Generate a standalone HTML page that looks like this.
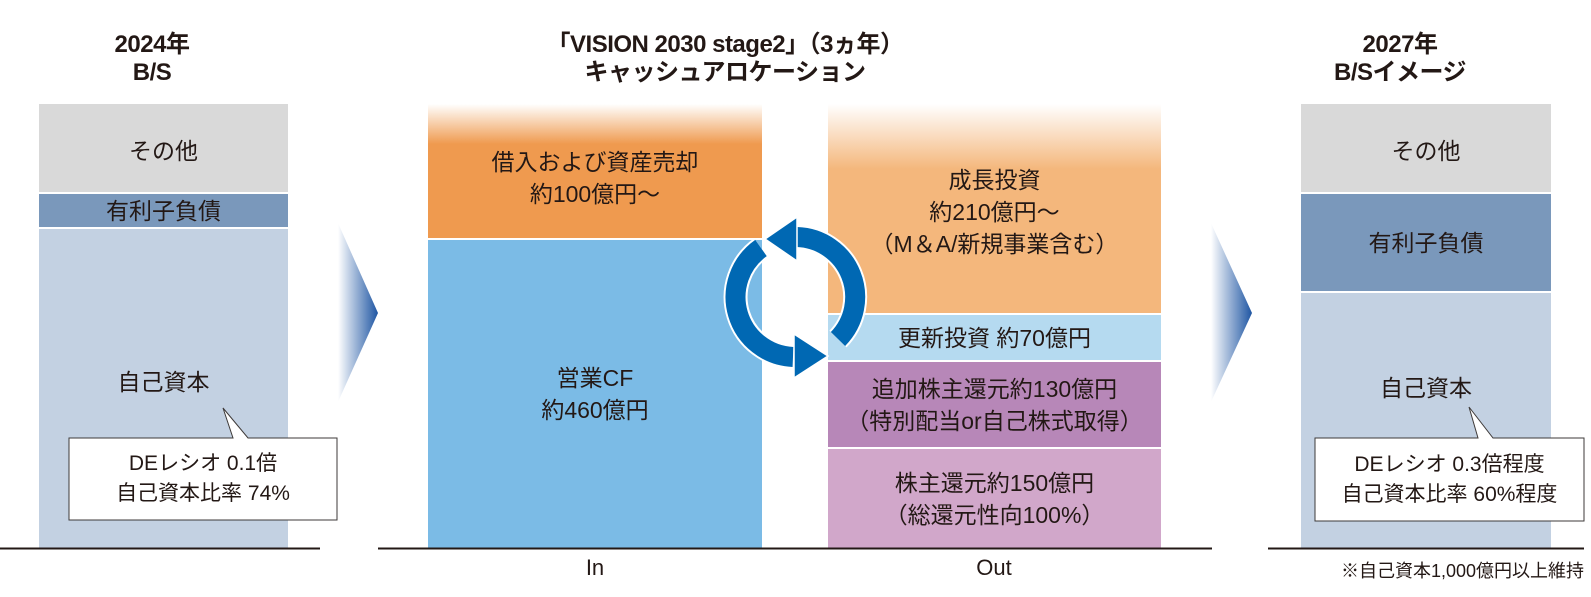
<!DOCTYPE html>
<html><head><meta charset="utf-8"><style>
body{margin:0;width:1591px;height:597px;background:#fff;position:relative;overflow:hidden;font-family:"Liberation Sans","Noto Sans CJK JP",sans-serif;color:#231815}
.a{position:absolute}
.c{display:flex;align-items:center;justify-content:center;text-align:center;flex-direction:column;line-height:32px;font-size:23px}
.h{font-weight:bold;font-size:24px;line-height:28px;text-align:center;letter-spacing:-0.5px}
</style></head><body>
<div class="a h" style="left:52px;top:31px;width:200px">2024年<br>B/S</div>
<div class="a h" style="left:475px;top:31px;width:500px">「VISION 2030 stage2」（3ヵ年）<br>キャッシュアロケーション</div>
<div class="a h" style="left:1300px;top:31px;width:200px">2027年<br>B/Sイメージ</div>

<div class="a c" style="left:39px;top:104px;width:249px;height:88px;background:#d9d9d9"><div style="margin-top:6px">その他</div></div>
<div class="a c" style="left:39px;top:194px;width:249px;height:33px;background:#7a98bb">有利子負債</div>
<div class="a" style="left:39px;top:229px;width:249px;height:319px;background:#c3d1e2"></div>
<div class="a c" style="left:39px;top:366px;width:249px;height:32px">自己資本</div>

<div class="a c" style="left:1301px;top:104px;width:250px;height:88px;background:#d9d9d9"><div style="margin-top:6px">その他</div></div>
<div class="a c" style="left:1301px;top:194px;width:250px;height:97px;background:#7a98bb">有利子負債</div>
<div class="a" style="left:1301px;top:293px;width:250px;height:255px;background:#c3d1e2"></div>
<div class="a c" style="left:1301px;top:372px;width:250px;height:32px">自己資本</div>

<div class="a c" style="left:428px;top:104px;width:334px;height:134px;background:linear-gradient(#fff 0px,#ef9a4f 40px,#ef9a4f)"><div style="margin-top:14px">借入および資産売却<br>約100億円～</div></div>
<div class="a c" style="left:428px;top:240px;width:334px;height:308px;background:#7bbbe6">営業CF<br>約460億円</div>

<div class="a c" style="left:828px;top:104px;width:333px;height:209px;background:linear-gradient(#fff 0px,#f4b77c 65px,#f4b77c)"><div style="margin-top:6px">成長投資<br>約210億円～<br>（M＆A/新規事業含む）</div></div>
<div class="a c" style="left:828px;top:315px;width:333px;height:45px;background:#b5daf0">更新投資 約70億円</div>
<div class="a c" style="left:828px;top:362px;width:333px;height:85px;background:#b787b8">追加株主還元約130億円<br>（特別配当or自己株式取得）</div>
<div class="a c" style="left:828px;top:449px;width:333px;height:99px;background:#d1a7ca">株主還元約150億円<br>（総還元性向100%）</div>

<svg class="a" style="left:0;top:0" width="1591" height="597">
<defs>
<linearGradient id="g" x1="0" x2="1" y1="0" y2="0"><stop offset="0" stop-color="#fff"/><stop offset="1" stop-color="#1f56a3"/></linearGradient>
</defs>
<polygon points="338,223 378,313 338,402" fill="url(#g)"/>
<polygon points="1211,223 1252,313 1211,402" fill="url(#g)"/>
<line x1="0" y1="548.5" x2="320" y2="548.5" stroke="#231815" stroke-width="2"/>
<line x1="378" y1="548.5" x2="1212" y2="548.5" stroke="#231815" stroke-width="2"/>
<line x1="1268" y1="548.5" x2="1584" y2="548.5" stroke="#231815" stroke-width="2"/>
<path d="M795 237 A60 60 0 0 1 838 339" fill="none" stroke="#fff" stroke-width="24"/>
<path d="M761 248 A60 60 0 0 0 795 357" fill="none" stroke="#fff" stroke-width="24"/>
<path d="M797 237 A60 60 0 0 1 838 339" fill="none" stroke="#0068b3" stroke-width="20"/>
<path d="M761 248 A60 60 0 0 0 793 357" fill="none" stroke="#0068b3" stroke-width="20"/>
<polygon points="797,217 797,261 765,239" fill="#0068b3" stroke="#fff" stroke-width="1.5"/>
<polygon points="794,334 794,378 828,356" fill="#0068b3" stroke="#fff" stroke-width="1.5"/>
<path d="M69 438 H233 L223 408 L248 438 H337 V520 H69 Z" fill="#fff" stroke="#3e3a39" stroke-width="1"/>
<path d="M1315 438 H1478 L1469 407 L1493 438 H1584 V521 H1315 Z" fill="#fff" stroke="#3e3a39" stroke-width="1"/>
</svg>
<div class="a c" style="left:69px;top:448px;width:268px;height:62px;font-size:21px;line-height:30px">DEレシオ 0.1倍<br>自己資本比率 74%</div>
<div class="a c" style="left:1315px;top:449px;width:269px;height:62px;font-size:21px;line-height:30px">DEレシオ 0.3倍程度<br>自己資本比率 60%程度</div>

<div class="a" style="left:545px;top:555px;width:100px;text-align:center;font-size:22px">In</div>
<div class="a" style="left:944px;top:555px;width:100px;text-align:center;font-size:22px">Out</div>
<div class="a" style="left:1250px;top:557px;width:334px;text-align:right;font-size:18px">※自己資本1,000億円以上維持</div>
</body></html>
